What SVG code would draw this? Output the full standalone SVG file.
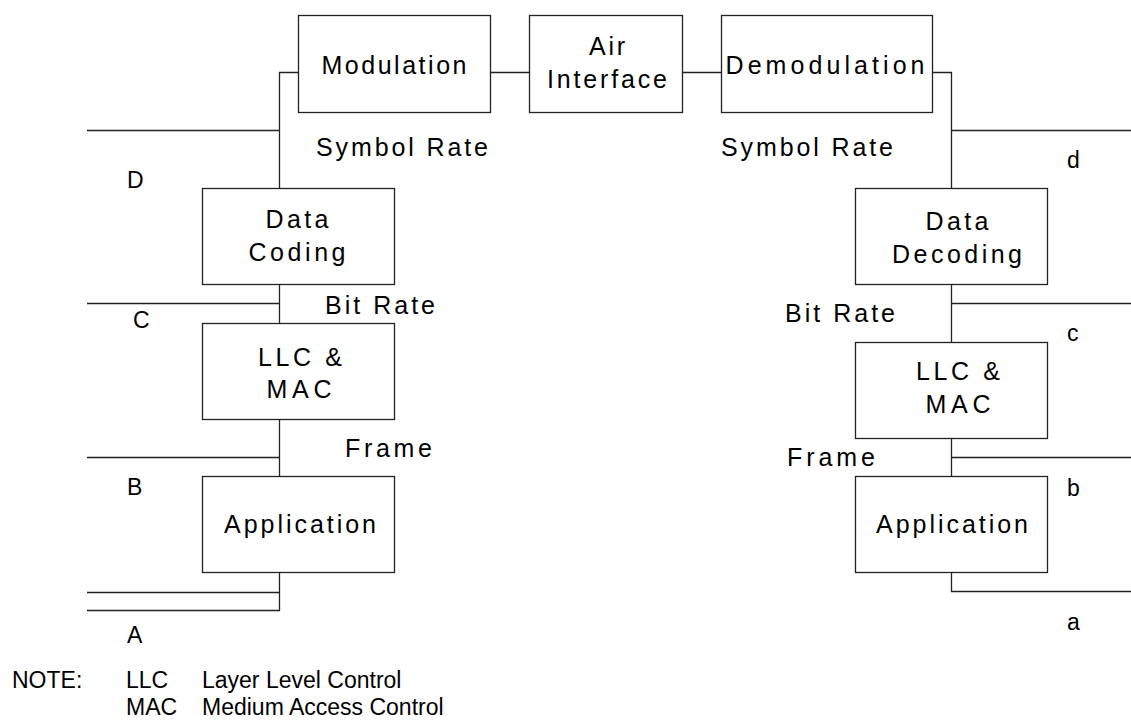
<svg xmlns="http://www.w3.org/2000/svg" width="1131" height="727" viewBox="0 0 1131 727">
<style>
.box{fill:#fff;stroke:#222;stroke-width:1.3}
.ln{fill:none;stroke:#222;stroke-width:1.3}
.t{font-family:"Liberation Sans",Arial,sans-serif;font-size:25px;fill:#000}
.c{text-anchor:middle}
.lb{font-family:"Liberation Sans",Arial,sans-serif;font-size:23px;fill:#000}
</style>
<rect width="1131" height="727" fill="#fff"/>
<g id="connectors">
<polyline class="ln" points="298.5,72.5 279.5,72.5 279.5,188.5"/>
<line class="ln" x1="87" y1="130.5" x2="279.5" y2="130.5"/>
<line class="ln" x1="279.5" y1="284.5" x2="279.5" y2="323.5"/>
<line class="ln" x1="87" y1="303.5" x2="279.5" y2="303.5"/>
<line class="ln" x1="279.5" y1="419.5" x2="279.5" y2="476.5"/>
<line class="ln" x1="87" y1="457.5" x2="279.5" y2="457.5"/>
<polyline class="ln" points="279.5,572.5 279.5,610.5 87,610.5"/>
<line class="ln" x1="87" y1="592.5" x2="279.5" y2="592.5"/>
<line class="ln" x1="490.5" y1="72.5" x2="529.5" y2="72.5"/>
<line class="ln" x1="682.5" y1="72.5" x2="721.5" y2="72.5"/>
<polyline class="ln" points="932.5,72.5 951.5,72.5 951.5,188.5"/>
<line class="ln" x1="951.5" y1="130.5" x2="1131" y2="130.5"/>
<line class="ln" x1="951.5" y1="284.5" x2="951.5" y2="342.5"/>
<line class="ln" x1="951.5" y1="303.5" x2="1131" y2="303.5"/>
<line class="ln" x1="951.5" y1="438.5" x2="951.5" y2="476.5"/>
<line class="ln" x1="951.5" y1="457.5" x2="1131" y2="457.5"/>
<polyline class="ln" points="951.5,572.5 951.5,591.5 1131,591.5"/>
</g>
<g id="modulation">
<rect class="box" x="298.5" y="15.5" width="192" height="97"/>
<text class="t c" x="394" y="74" textLength="145" lengthAdjust="spacing">Modulation</text>
</g>
<g id="air-interface">
<rect class="box" x="529.5" y="15.5" width="153" height="97"/>
<text class="t c" x="607" y="55" textLength="36" lengthAdjust="spacing">Air</text>
<text class="t c" x="607" y="88" textLength="120" lengthAdjust="spacing">Interface</text>
</g>
<g id="demodulation">
<rect class="box" x="721.5" y="15.5" width="211" height="97"/>
<text class="t c" x="825" y="74" textLength="199" lengthAdjust="spacing">Demodulation</text>
</g>
<g id="data-coding">
<rect class="box" x="202.5" y="188.5" width="192" height="96"/>
<text class="t c" x="297" y="228" textLength="63" lengthAdjust="spacing">Data</text>
<text class="t c" x="297" y="261" textLength="97" lengthAdjust="spacing">Coding</text>
</g>
<g id="llc-mac-left">
<rect class="box" x="202.5" y="323.5" width="192" height="96"/>
<text class="t c" x="300" y="366" textLength="84" lengthAdjust="spacing">LLC &amp;</text>
<text class="t c" x="299" y="398" textLength="65" lengthAdjust="spacing">MAC</text>
</g>
<g id="application-left">
<rect class="box" x="202.5" y="476.5" width="192" height="96"/>
<text class="t c" x="300" y="533" textLength="152" lengthAdjust="spacing">Application</text>
</g>
<g id="data-decoding">
<rect class="box" x="855.5" y="188.5" width="192" height="96"/>
<text class="t c" x="957" y="230" textLength="63" lengthAdjust="spacing">Data</text>
<text class="t c" x="957" y="263" textLength="130" lengthAdjust="spacing">Decoding</text>
</g>
<g id="llc-mac-right">
<rect class="box" x="855.5" y="342.5" width="192" height="96"/>
<text class="t c" x="958" y="380" textLength="84" lengthAdjust="spacing">LLC &amp;</text>
<text class="t c" x="958" y="413" textLength="65" lengthAdjust="spacing">MAC</text>
</g>
<g id="application-right">
<rect class="box" x="855.5" y="476.5" width="192" height="96"/>
<text class="t c" x="952" y="533" textLength="152" lengthAdjust="spacing">Application</text>
</g>
<g id="labels">
<text class="t" x="316" y="156" textLength="172" lengthAdjust="spacing">Symbol Rate</text>
<text class="t" x="721" y="156" textLength="172" lengthAdjust="spacing">Symbol Rate</text>
<text class="t" x="325" y="314" textLength="110" lengthAdjust="spacing">Bit Rate</text>
<text class="t" x="785" y="322" textLength="110" lengthAdjust="spacing">Bit Rate</text>
<text class="t" x="345" y="457" textLength="87" lengthAdjust="spacing">Frame</text>
<text class="t" x="787" y="466" textLength="88" lengthAdjust="spacing">Frame</text>
<text class="lb" x="127" y="188">D</text>
<text class="lb" x="133" y="328">C</text>
<text class="lb" x="127" y="495">B</text>
<text class="lb" x="127" y="643">A</text>
<text class="lb" x="1067" y="168">d</text>
<text class="lb" x="1067" y="341">c</text>
<text class="lb" x="1067" y="496">b</text>
<text class="lb" x="1067" y="630">a</text>
</g>
<g id="note">
<text class="lb" x="12" y="688">NOTE:</text>
<text class="lb" x="126" y="688">LLC</text>
<text class="lb" x="202" y="688">Layer Level Control</text>
<text class="lb" x="126" y="715">MAC</text>
<text class="lb" x="202" y="715">Medium Access Control</text>
</g>
</svg>
